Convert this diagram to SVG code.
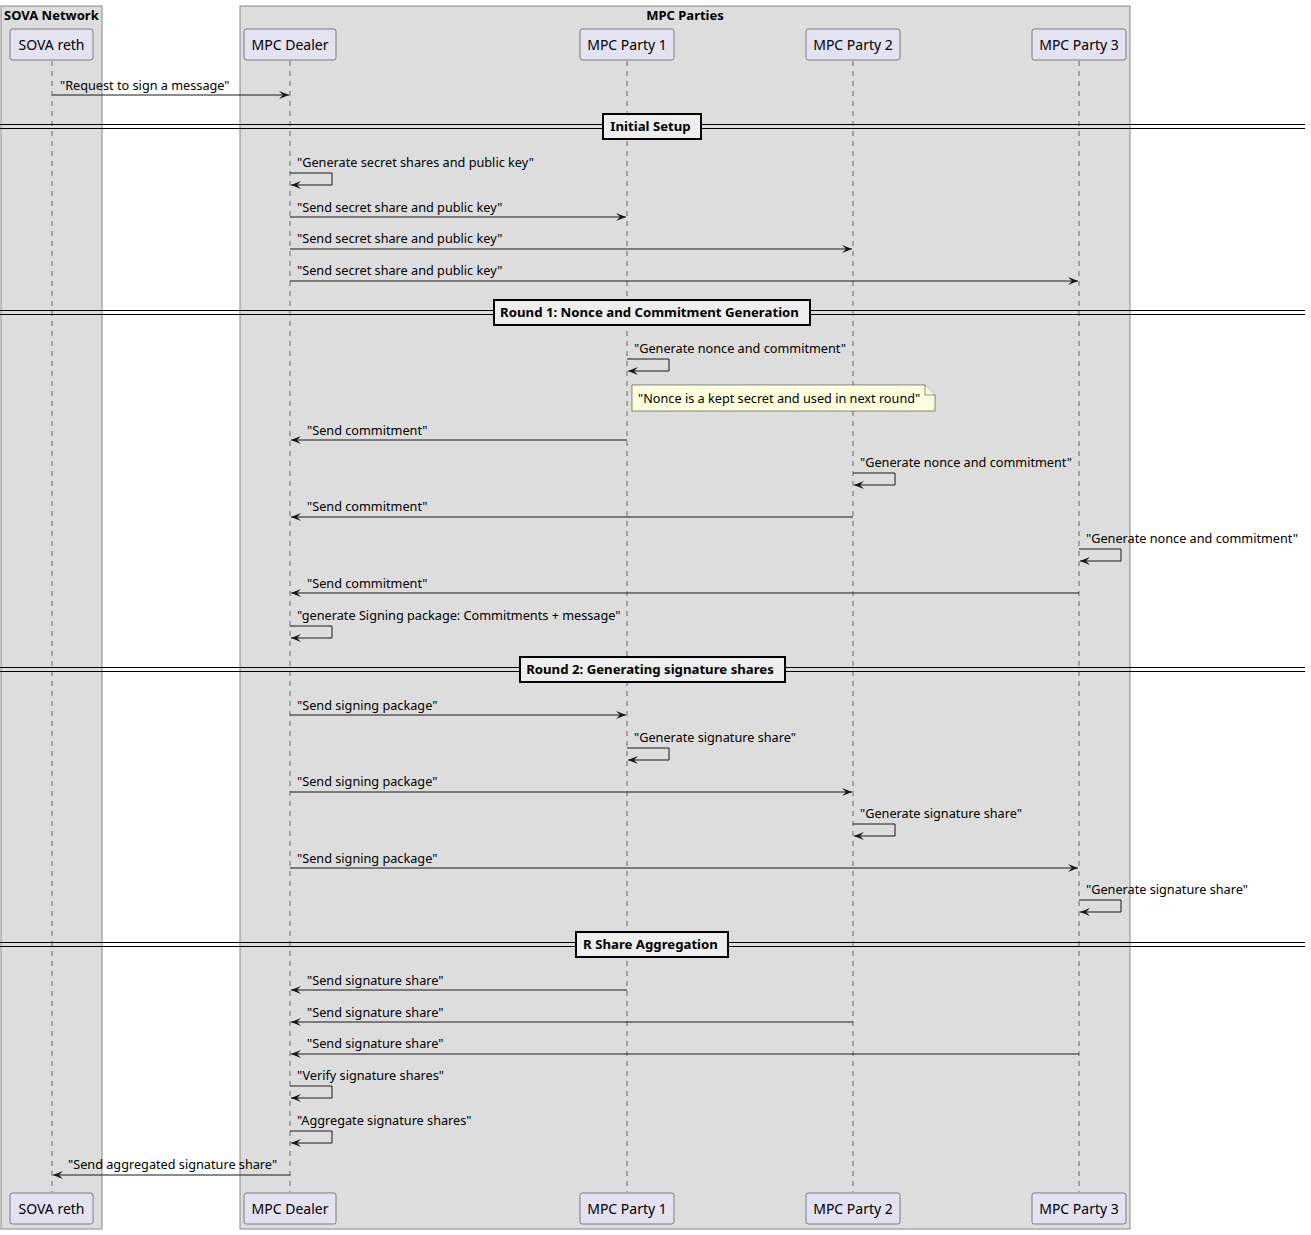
<svg xmlns="http://www.w3.org/2000/svg" width="1311" height="1235" viewBox="0 0 1311 1235">
<style>
text{font-family:"Noto Sans","DejaVu Sans",sans-serif;fill:#000}
.m{font-size:12.7px}
.p{font-size:14px}
.b{font-size:13px;font-weight:bold}
.s{font-size:13.2px;font-weight:bold}
.grp{fill:#DDDDDD;stroke:#888888;stroke-width:1}
.part{fill:#E2E2F0;stroke:#181818;stroke-width:0.5}
.life{stroke:#181818;stroke-width:0.6;stroke-dasharray:5,5}
.msg{stroke:#181818;stroke-width:1;fill:none}
.sep{stroke:#000;stroke-width:1}
.sepbox{fill:#EEEEEE;stroke:#000;stroke-width:2}
.note{fill:#FEFFDD;stroke:#181818;stroke-width:0.5}
</style>
<defs>
<marker id="ah" viewBox="0 0 10 8" refX="10" refY="4" markerWidth="10" markerHeight="8" markerUnits="userSpaceOnUse" orient="auto">
<polygon points="0,0 10,4 0,8 4,4" fill="#181818"/>
</marker>
</defs>
<g id="groups">
<rect class="grp" x="1" y="6" width="101" height="1223"/>
<text class="b" x="4" y="20">SOVA Network</text>
<rect class="grp" x="240" y="6" width="890" height="1223"/>
<text class="b" x="685" y="20" text-anchor="middle">MPC Parties</text>
</g>
<g id="lifelines">
<line class="life" x1="52" y1="61" x2="52" y2="1192"/>
<line class="life" x1="290" y1="61" x2="290" y2="1192"/>
<line class="life" x1="627" y1="61" x2="627" y2="1192"/>
<line class="life" x1="853" y1="61" x2="853" y2="1192"/>
<line class="life" x1="1079" y1="61" x2="1079" y2="1192"/>
</g>
<g id="sova-reth">
<rect class="part" x="10" y="29" width="83" height="31" rx="2.5"/>
<text class="p" x="51.5" y="50" text-anchor="middle">SOVA reth</text>
<rect class="part" x="10" y="1193" width="83" height="31" rx="2.5"/>
<text class="p" x="51.5" y="1214" text-anchor="middle">SOVA reth</text>
</g>
<g id="mpc-dealer">
<rect class="part" x="244" y="29" width="92" height="31" rx="2.5"/>
<text class="p" x="290" y="50" text-anchor="middle">MPC Dealer</text>
<rect class="part" x="244" y="1193" width="92" height="31" rx="2.5"/>
<text class="p" x="290" y="1214" text-anchor="middle">MPC Dealer</text>
</g>
<g id="mpc-party-1">
<rect class="part" x="580" y="29" width="94" height="31" rx="2.5"/>
<text class="p" x="627" y="50" text-anchor="middle">MPC Party 1</text>
<rect class="part" x="580" y="1193" width="94" height="31" rx="2.5"/>
<text class="p" x="627" y="1214" text-anchor="middle">MPC Party 1</text>
</g>
<g id="mpc-party-2">
<rect class="part" x="806" y="29" width="94" height="31" rx="2.5"/>
<text class="p" x="853" y="50" text-anchor="middle">MPC Party 2</text>
<rect class="part" x="806" y="1193" width="94" height="31" rx="2.5"/>
<text class="p" x="853" y="1214" text-anchor="middle">MPC Party 2</text>
</g>
<g id="mpc-party-3">
<rect class="part" x="1032" y="29" width="94" height="31" rx="2.5"/>
<text class="p" x="1079" y="50" text-anchor="middle">MPC Party 3</text>
<rect class="part" x="1032" y="1193" width="94" height="31" rx="2.5"/>
<text class="p" x="1079" y="1214" text-anchor="middle">MPC Party 3</text>
</g>
<g id="separators">
<line class="sep" x1="0" y1="124.5" x2="1305" y2="124.5"/><line class="sep" x1="0" y1="128.5" x2="1305" y2="128.5"/>
<rect class="sepbox" x="603" y="114" width="98" height="25"/>
<text class="s" x="650.5" y="131" text-anchor="middle">Initial Setup</text>
<line class="sep" x1="0" y1="310.5" x2="1305" y2="310.5"/><line class="sep" x1="0" y1="314.5" x2="1305" y2="314.5"/>
<rect class="sepbox" x="494" y="300" width="316" height="25"/>
<text class="s" x="649.5" y="317" text-anchor="middle">Round 1: Nonce and Commitment Generation</text>
<line class="sep" x1="0" y1="667.5" x2="1305" y2="667.5"/><line class="sep" x1="0" y1="671.5" x2="1305" y2="671.5"/>
<rect class="sepbox" x="520" y="657" width="265" height="25"/>
<text class="s" x="650" y="674" text-anchor="middle">Round 2: Generating signature shares</text>
<line class="sep" x1="0" y1="942.5" x2="1305" y2="942.5"/><line class="sep" x1="0" y1="946.5" x2="1305" y2="946.5"/>
<rect class="sepbox" x="576" y="932" width="152" height="25"/>
<text class="s" x="650.5" y="949" text-anchor="middle">R Share Aggregation</text>
</g>
<g id="note">
<path class="note" d="M632,385 L925,385 L935,395 L935,411 L632,411 Z"/>
<path class="note" d="M925,385 L925,395 L935,395" fill="none"/>
<text class="m" x="638" y="403">"Nonce is a kept secret and used in next round"</text>
</g>
<g id="connectors">
<line class="msg" x1="52" y1="95" x2="289" y2="95" marker-end="url(#ah)"/>
<text class="m" x="60" y="90">"Request to sign a message"</text>

<path class="msg" d="M290,173 H332 V185 H291" marker-end="url(#ah)"/>
<text class="m" x="297" y="167">"Generate secret shares and public key"</text>
<line class="msg" x1="290" y1="217" x2="626" y2="217" marker-end="url(#ah)"/>
<text class="m" x="297" y="212">"Send secret share and public key"</text>
<line class="msg" x1="290" y1="249" x2="852" y2="249" marker-end="url(#ah)"/>
<text class="m" x="297" y="243">"Send secret share and public key"</text>
<line class="msg" x1="290" y1="281" x2="1078" y2="281" marker-end="url(#ah)"/>
<text class="m" x="297" y="275">"Send secret share and public key"</text>

<path class="msg" d="M627,359 H669 V371 H628" marker-end="url(#ah)"/>
<text class="m" x="634" y="353">"Generate nonce and commitment"</text>
<line class="msg" x1="627" y1="440" x2="291" y2="440" marker-end="url(#ah)"/>
<text class="m" x="307" y="435">"Send commitment"</text>
<path class="msg" d="M853,473 H895 V485 H854" marker-end="url(#ah)"/>
<text class="m" x="860" y="467">"Generate nonce and commitment"</text>
<line class="msg" x1="853" y1="517" x2="291" y2="517" marker-end="url(#ah)"/>
<text class="m" x="307" y="511">"Send commitment"</text>
<path class="msg" d="M1079,549 H1121 V561 H1080" marker-end="url(#ah)"/>
<text class="m" x="1086" y="543">"Generate nonce and commitment"</text>
<line class="msg" x1="1079" y1="593" x2="291" y2="593" marker-end="url(#ah)"/>
<text class="m" x="307" y="588">"Send commitment"</text>
<path class="msg" d="M290,626 H332 V638 H291" marker-end="url(#ah)"/>
<text class="m" x="297" y="620">"generate Signing package: Commitments + message"</text>

<line class="msg" x1="290" y1="715" x2="626" y2="715" marker-end="url(#ah)"/>
<text class="m" x="297" y="710">"Send signing package"</text>
<path class="msg" d="M627,748 H669 V760 H628" marker-end="url(#ah)"/>
<text class="m" x="634" y="742">"Generate signature share"</text>
<line class="msg" x1="290" y1="792" x2="852" y2="792" marker-end="url(#ah)"/>
<text class="m" x="297" y="786">"Send signing package"</text>
<path class="msg" d="M853,824 H895 V836 H854" marker-end="url(#ah)"/>
<text class="m" x="860" y="818">"Generate signature share"</text>
<line class="msg" x1="290" y1="868" x2="1078" y2="868" marker-end="url(#ah)"/>
<text class="m" x="297" y="863">"Send signing package"</text>
<path class="msg" d="M1079,900 H1121 V912 H1080" marker-end="url(#ah)"/>
<text class="m" x="1086" y="894">"Generate signature share"</text>

<line class="msg" x1="627" y1="990" x2="291" y2="990" marker-end="url(#ah)"/>
<text class="m" x="307" y="985">"Send signature share"</text>
<line class="msg" x1="853" y1="1022" x2="291" y2="1022" marker-end="url(#ah)"/>
<text class="m" x="307" y="1017">"Send signature share"</text>
<line class="msg" x1="1079" y1="1054" x2="291" y2="1054" marker-end="url(#ah)"/>
<text class="m" x="307" y="1048">"Send signature share"</text>
<path class="msg" d="M290,1086 H332 V1098 H291" marker-end="url(#ah)"/>
<text class="m" x="297" y="1080">"Verify signature shares"</text>
<path class="msg" d="M290,1131 H332 V1143 H291" marker-end="url(#ah)"/>
<text class="m" x="297" y="1125">"Aggregate signature shares"</text>
<line class="msg" x1="290" y1="1175" x2="53" y2="1175" marker-end="url(#ah)"/>
<text class="m" x="68" y="1169">"Send aggregated signature share"</text>
</g>
</svg>
